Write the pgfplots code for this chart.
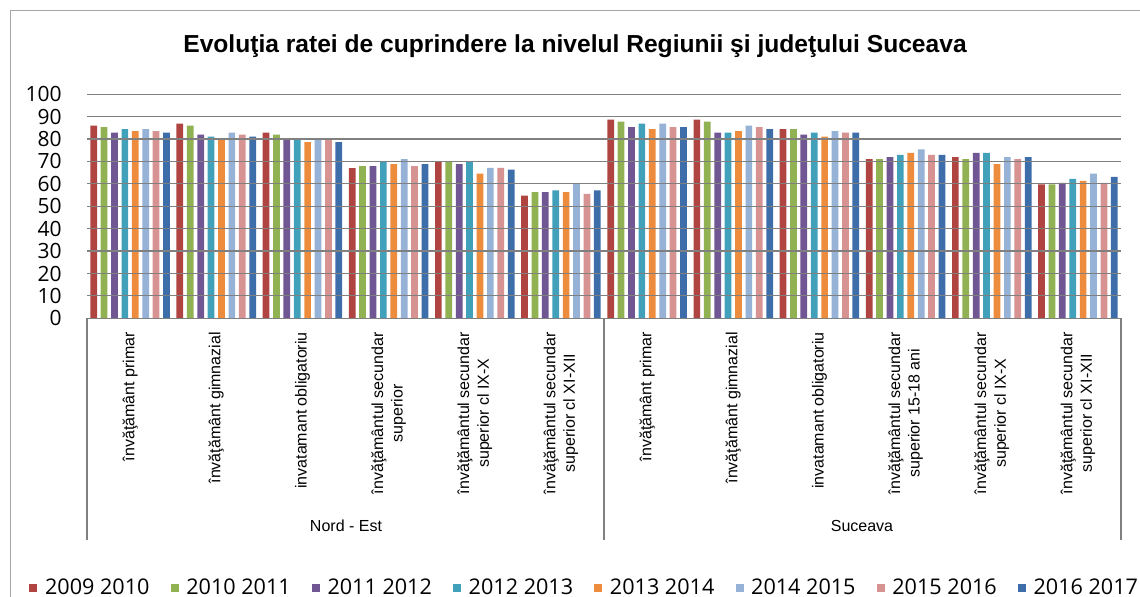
\documentclass[border=0pt]{standalone}
\usepackage{pgfplots}
\pgfplotsset{compat=1.18}
\usepackage{pgfplotstable}
\usepackage{fontspec}
\setmainfont{Liberation Sans}
\newfontfamily\opensans{Open Sans}
\definecolor{c1}{RGB}{176,68,65}
\definecolor{c2}{RGB}{145,178,82}
\definecolor{c3}{RGB}{112,87,148}
\definecolor{c4}{RGB}{65,160,186}
\definecolor{c5}{RGB}{238,140,62}
\definecolor{c6}{RGB}{150,178,215}
\definecolor{c7}{RGB}{215,147,146}
\definecolor{c8}{RGB}{62,110,170}
\definecolor{gridc}{RGB}{128,128,128}
\pgfplotstableread{
x s1 s2 s3 s4 s5 s6 s7 s8
0 86.0 85.3 82.9 84.4 83.6 84.4 83.6 82.9
1 86.9 86.0 82.0 81.1 80.2 82.9 82.0 81.1
2 82.9 82.0 79.9 79.9 78.6 79.9 79.9 78.6
3 67.0 67.9 67.9 70.0 68.8 71.1 67.9 68.8
4 70.2 70.2 68.8 70.2 64.6 67.1 67.1 66.4
5 54.8 56.3 56.3 57.1 56.3 60.0 55.5 57.1
6 88.7 87.8 85.3 86.9 84.4 86.9 85.3 85.3
7 88.7 87.8 82.9 82.9 83.6 86.0 85.3 84.4
8 84.4 84.4 82.0 82.9 81.1 83.6 82.9 82.9
9 71.1 71.1 72.0 72.9 73.8 75.4 72.9 72.9
10 72.0 71.1 73.8 73.8 68.8 72.0 71.1 72.0
11 59.8 59.8 60.4 62.2 61.3 64.6 60.4 63.1
}\datatable
\begin{document}
\begin{tikzpicture}
\useasboundingbox (0pt,0pt) rectangle (570pt,298.5pt);
\fill[white] (0pt,0pt) rectangle (570pt,298.5pt);
\draw[gridc!70,line width=0.5pt] (5pt,0pt) -- (5pt,293pt) -- (570pt,293pt);
\node[font=\bfseries\fontsize{12.3}{14}\selectfont] at (287.5pt,275.5pt) {Evoluţia ratei de cuprindere la nivelul Regiunii şi judeţului Suceava};
\begin{axis}[
  at={(43.5pt,139.35pt)}, anchor=south west,
  scale only axis, width=517pt, height=112pt,
  xmin=-0.5, xmax=11.5, ymin=0, ymax=100,
  enlargelimits=false,
  ybar=1.85pt, bar width=3.35pt,
  axis on top,
  axis line style={draw=none},
  tick style={draw=none},
  ymajorgrids, grid style={gridc, line width=0.6pt},
  ytick={0,10,...,100},
  /pgf/number format/assume math mode=true,
  yticklabel style={font=\opensans\fontsize{10.5}{12}\selectfont, anchor=east, inner sep=0pt, xshift=-12.5pt},
  xtick={0,...,11},
  xticklabels={
    {învăţământ primar},
    {învăţământ gimnazial},
    {invatamant obligatoriu},
    {învăţământul secundar\\superior},
    {învăţământul secundar\\superior cl IX-X},
    {învăţământul secundar\\superior cl XI-XII},
    {învăţământ primar},
    {învăţământ gimnazial},
    {invatamant obligatoriu},
    {învăţământul secundar\\superior 15-18 ani},
    {învăţământul secundar\\superior cl IX-X},
    {învăţământul secundar\\superior cl XI-XII}},
  xticklabel style={font=\fontsize{8}{9.8}\selectfont, rotate=90, anchor=east, align=center, inner sep=0pt},
  xticklabel shift=2.5pt,
  legend columns=8,
  legend style={draw=none, fill=none, inner sep=0pt, at={(-0.056,-1.204)}, anchor=west,
    font=\opensans\fontsize{10.8}{12}\selectfont,
    nodes={inner sep=1.5pt},
    /tikz/every odd column/.append style={column sep=2.3pt},
    /tikz/every even column/.append style={column sep=9.1pt}},
  legend image code/.code={\fill[#1] (0pt,-2pt) rectangle (4pt,2pt);},
]
\addplot[fill=c1, draw=none] table[x=x,y=s1]{\datatable};
\addplot[fill=c2, draw=none] table[x=x,y=s2]{\datatable};
\addplot[fill=c3, draw=none] table[x=x,y=s3]{\datatable};
\addplot[fill=c4, draw=none] table[x=x,y=s4]{\datatable};
\addplot[fill=c5, draw=none] table[x=x,y=s5]{\datatable};
\addplot[fill=c6, draw=none] table[x=x,y=s6]{\datatable};
\addplot[fill=c7, draw=none] table[x=x,y=s7]{\datatable};
\addplot[fill=c8, draw=none] table[x=x,y=s8]{\datatable};
\legend{2009 2010, 2010 2011, 2011 2012, 2012 2013, 2013 2014, 2014 2015, 2015 2016, 2016 2017}
\end{axis}
\draw[gridc, line width=0.6pt] (43.5pt,139.35pt) -- (43.5pt,28.5pt);
\draw[gridc, line width=0.6pt] (302pt,139.35pt) -- (302pt,28.5pt);
\draw[gridc, line width=0.6pt] (560.5pt,139.35pt) -- (560.5pt,28.5pt);
\node[font=\fontsize{8}{9.6}\selectfont] at (173pt,35.5pt) {Nord - Est};
\node[font=\fontsize{8}{9.6}\selectfont] at (431pt,35.5pt) {Suceava};
\end{tikzpicture}
\end{document}
